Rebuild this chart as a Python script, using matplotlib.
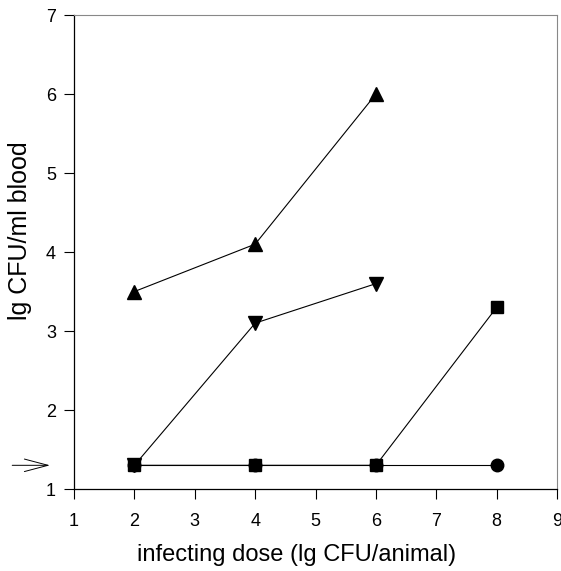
import matplotlib
matplotlib.use("Agg")
import matplotlib.pyplot as plt

plt.rcParams['font.family'] = ['Liberation Sans', 'DejaVu Sans']

# infecting dose (lg CFU/animal) vs lg CFU/ml blood
dose_up = [2, 4, 6]
cfu_up = [3.5, 4.1, 6.0]

dose_down = [2, 4, 6]
cfu_down = [1.3, 3.1, 3.6]

dose_sq = [2, 4, 6, 8]
cfu_sq = [1.3, 1.3, 1.3, 3.3]

dose_circ = [2, 4, 6, 8]
cfu_circ = [1.3, 1.3, 1.3, 1.3]

detection_limit = 1.3

xticks = [1, 2, 3, 4, 5, 6, 7, 8, 9]
yticks = [1, 2, 3, 4, 5, 6, 7]

fig = plt.figure(figsize=(5.61, 5.71), dpi=100)
ax = fig.add_axes([0.132, 0.1436, 0.861, 0.830])

lw = 0.8
ax.plot(dose_circ, cfu_circ, '-', color='black', lw=lw, marker='o', ms=9)
ax.plot(dose_sq, cfu_sq, '-', color='black', lw=lw, marker='s', ms=8)
ax.plot(dose_down, cfu_down, '-', color='black', lw=lw, marker='v', ms=10)
ax.plot(dose_up, cfu_up, '-', color='black', lw=lw, marker='^', ms=10)

ax.set_xlim(1, 9)
ax.set_ylim(1, 7)
ax.set_xticks(xticks)
ax.set_yticks(yticks)
ax.tick_params(direction='out', length=7, width=0.8, labelsize=13, pad=10)
ax.tick_params(axis='y', pad=6)

for side in ['top', 'right']:
    ax.spines[side].set_color('#888888')
    ax.spines[side].set_linewidth(0.8)
for side in ['left', 'bottom']:
    ax.spines[side].set_linewidth(0.9)

ax.set_xlabel('infecting dose (lg CFU/animal)', fontsize=17)
ax.set_ylabel('lg CFU/ml blood', fontsize=18)
ax.xaxis.set_label_coords(0.46, -0.115)
ax.yaxis.set_label_coords(-0.088, 0.544)

# detection limit arrow left of the axis
ax.annotate('', xy=(-0.05, detection_limit), xytext=(-0.128, detection_limit),
            xycoords=('axes fraction', 'data'), textcoords=('axes fraction', 'data'),
            arrowprops=dict(arrowstyle='->,head_length=1.7,head_width=0.45',
                            mutation_scale=10, color='black', lw=0.7,
                            shrinkA=0, shrinkB=0),
            annotation_clip=False)

plt.savefig('out.png', dpi=100)
